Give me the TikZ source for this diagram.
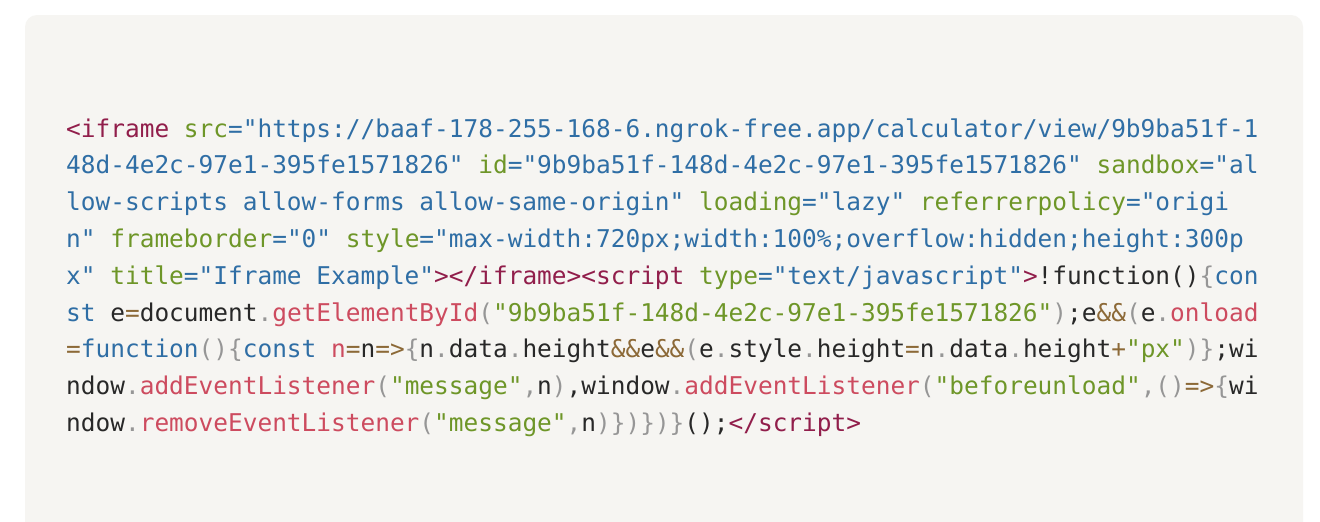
\documentclass[tikz,border=0pt]{standalone}
\usepackage{fontspec}
\setmonofont{DejaVu Sans Mono}
\definecolor{cardbg}{RGB}{246,245,242}
\definecolor{ctag}{RGB}{145,30,75}
\definecolor{cattr}{RGB}{110,150,40}
\definecolor{cstr}{RGB}{47,110,165}
\definecolor{cfn}{RGB}{205,75,95}
\definecolor{cpun}{RGB}{150,150,150}
\definecolor{cop}{RGB}{140,105,55}
\definecolor{ctxt}{RGB}{40,40,40}
\newcommand{\tg}[1]{{\color{ctag}#1}}
\newcommand{\at}[1]{{\color{cattr}#1}}
\newcommand{\sv}[1]{{\color{cstr}#1}}
\newcommand{\js}[1]{{\color{cattr}#1}}
\newcommand{\fn}[1]{{\color{cfn}#1}}
\newcommand{\pu}[1]{{\color{cpun}#1}}
\newcommand{\op}[1]{{\color{cop}#1}}
\tikzset{
  codeline/.style={anchor=base west, inner sep=0pt, text=ctxt,
    font=\ttfamily\fontsize{24.45}{29}\selectfont}
}
\begin{document}
\begin{tikzpicture}[x=1pt,y=1pt]
\useasboundingbox (0,0) rectangle (1320,-522);
\fill[white] (0,0) rectangle (1320,-522);
\begin{scope}
\clip (0,0) rectangle (1320,-522);
\fill[cardbg, rounded corners=12pt] (25,-15) rectangle (1303,-560);
\end{scope}
\node[codeline] (l1) at (66,-137) {\tg{<iframe} \at{src}\sv{="https://baaf-178-255-168-6.ngrok-free.app/calculator/view/9b9ba51f-1}};
\node[codeline] (l2) at (66,-173.8) {\sv{48d-4e2c-97e1-395fe1571826"} \at{id}\sv{="9b9ba51f-148d-4e2c-97e1-395fe1571826"} \at{sandbox}\sv{="al}};
\node[codeline] (l3) at (66,-210.6) {\sv{low-scripts allow-forms allow-same-origin"} \at{loading}\sv{="lazy"} \at{referrerpolicy}\sv{="origi}};
\node[codeline] (l4) at (66,-247.4) {\sv{n"} \at{frameborder}\sv{="0"} \at{style}\sv{="max-width:720px;width:100\%;overflow:hidden;height:300p}};
\node[codeline] (l5) at (66,-284.2) {\sv{x"} \at{title}\sv{="Iframe Example"}\tg{></iframe><script} \at{type}\sv{="text/javascript"}\tg{>}!function()\pu{\{}\sv{con}};
\node[codeline] (l6) at (66,-321) {\sv{st} e\op{=}document\pu{.}\fn{getElementById}\pu{(}\js{"9b9ba51f-148d-4e2c-97e1-395fe1571826"}\pu{)};e\op{\&\&}\pu{(}e\pu{.}\fn{onload}};
\node[codeline] (l7) at (66,-357.8) {\op{=}\sv{function}\pu{()\{}\sv{const} \fn{n}\op{=}n\op{=>}\pu{\{}n\pu{.}data\pu{.}height\op{\&\&}e\op{\&\&}\pu{(}e\pu{.}style\pu{.}height\op{=}n\pu{.}data\pu{.}height\op{+}\js{"px"}\pu{)\}};wi};
\node[codeline] (l8) at (66,-394.6) {ndow\pu{.}\fn{addEventListener}\pu{(}\js{"message"}\pu{,}n\pu{)},window\pu{.}\fn{addEventListener}\pu{(}\js{"beforeunload"}\pu{,()}\op{=>}\pu{\{}wi};
\node[codeline] (l9) at (66,-431.4) {ndow\pu{.}\fn{removeEventListener}\pu{(}\js{"message"}\pu{,}n\pu{)\})\})\}}();\tg{</script>}};
\end{tikzpicture}
\end{document}
